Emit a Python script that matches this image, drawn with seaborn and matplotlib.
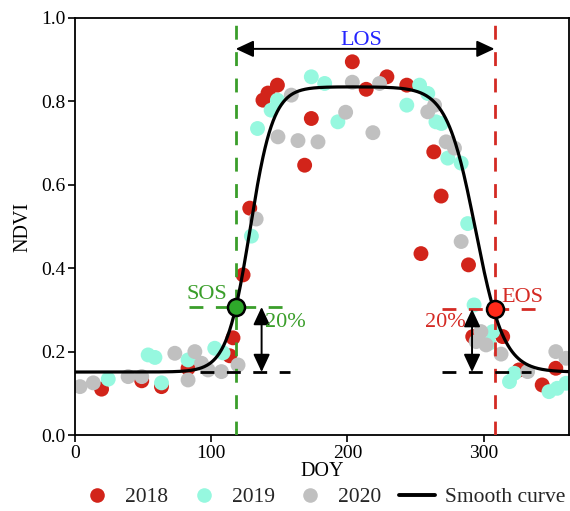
import numpy as np
import pandas as pd
import matplotlib
matplotlib.use("Agg")
import matplotlib.pyplot as plt
import seaborn as sns
from matplotlib.lines import Line2D

# ---- data ----
doy_2018 = [19.5, 49, 63.5, 83, 113.6, 116, 123.4, 128.3, 138, 141.7, 148.6, 168.6, 173.5,
            203.6, 213.8, 229, 243.6, 254, 263.4, 268.8, 288.9, 292, 314, 326, 343, 353]
ndvi_2018 = [0.11, 0.13, 0.116, 0.16, 0.19, 0.233, 0.384, 0.544, 0.803, 0.82, 0.839, 0.647, 0.759,
             0.895, 0.829, 0.859, 0.839, 0.435, 0.679, 0.573, 0.408, 0.236, 0.236, 0.156, 0.12, 0.16]

doy_2019 = [24.4, 53.7, 58.7, 63.5, 83, 102.6, 108.7, 129.5, 134, 144, 148.6, 173.5, 183.3, 193,
            243.6, 253, 259, 265, 269, 273.7, 283.5, 288.3, 293, 304, 306.7, 319, 322.6, 348, 354, 360.5]
ndvi_2019 = [0.134, 0.192, 0.186, 0.125, 0.18, 0.208, 0.197, 0.477, 0.735, 0.779, 0.803, 0.859, 0.843, 0.751,
             0.791, 0.839, 0.819, 0.751, 0.747, 0.664, 0.652, 0.507, 0.312, 0.22, 0.248, 0.128, 0.148, 0.104, 0.112, 0.124]

doy_2020 = [3.7, 13.4, 39, 49, 73.3, 83, 88, 92.9, 97.7, 107.5, 119.7, 133, 149, 158.8, 163.7, 178.4,
            198.7, 203.6, 218.7, 223.6, 259, 264, 272.5, 278.6, 283.5, 294.5, 298, 301.8, 312.8, 332.3, 353, 360.5]
ndvi_2020 = [0.116, 0.125, 0.14, 0.14, 0.196, 0.132, 0.2, 0.172, 0.156, 0.152, 0.168, 0.518, 0.715, 0.815, 0.706, 0.703,
             0.774, 0.846, 0.725, 0.843, 0.775, 0.791, 0.703, 0.688, 0.464, 0.224, 0.248, 0.216, 0.194, 0.152, 0.2, 0.184]

years = ["2018", "2019", "2020"]
year_colors = ["#d2241a", "#96f8df", "#c0c0c0"]

# smooth (double logistic) curve parameters
curve_base, curve_peak = 0.151, 0.835
rise_mid, rise_scale = 128.5, 8.5
fall_mid, fall_scale = 294.0, 10.5

sos_doy, sos_ndvi = 118, 0.307
eos_doy, eos_ndvi = 308, 0.302
los_level = 0.926

green = "#3a9e2a"
red = "#d42a24"

# ---- plotting ----
sns.set_theme(style="ticks")
plt.rcParams["font.family"] = ["Liberation Serif", "DejaVu Serif"]
plt.rcParams["mathtext.fontset"] = "stix"

fig = plt.figure(figsize=(5.70, 5.11), dpi=100)
ax = fig.add_axes([75 / 570, 1 - 435 / 511, 1 - 75 / 570 - 0.001, (435 - 18) / 511])

df = pd.concat([
    pd.DataFrame({"DOY": doy_2018, "NDVI": ndvi_2018, "Year": "2018"}),
    pd.DataFrame({"DOY": doy_2019, "NDVI": ndvi_2019, "Year": "2019"}),
    pd.DataFrame({"DOY": doy_2020, "NDVI": ndvi_2020, "Year": "2020"}),
], ignore_index=True)

sns.scatterplot(data=df, x="DOY", y="NDVI", hue="Year", hue_order=years,
                palette=dict(zip(years, year_colors)), s=115, linewidth=0,
                edgecolor="none", legend=False, ax=ax, zorder=2)

t = np.linspace(0, 365, 731)
amp = curve_peak - curve_base
curve = curve_base + amp * (1 / (1 + np.exp(-(t - rise_mid) / rise_scale))
                            - 1 / (1 + np.exp(-(t - fall_mid) / fall_scale)))
sns.lineplot(x=t, y=curve, color="black", linewidth=2.3, ax=ax, zorder=4)

# guide lines
ax.axvline(sos_doy, color=green, lw=2.0, dashes=(5, 4.5), zorder=3)
ax.axvline(eos_doy, color=red, lw=2.0, dashes=(5, 4.5), zorder=3)
ax.plot([84, 158], [sos_ndvi, sos_ndvi], color=green, lw=2.0, dashes=(5, 4.5), zorder=3)
ax.plot([269.5, 341], [eos_ndvi, eos_ndvi], color=red, lw=2.0, dashes=(5, 4.5), zorder=3)
ax.plot([92, 158], [curve_base, curve_base], color="black", lw=2.0, dashes=(5, 4.5), zorder=3)
ax.plot([269.5, 335], [curve_base, curve_base], color="black", lw=2.0, dashes=(5, 4.5), zorder=3)

arrow_style = dict(arrowstyle="<|-|>,head_length=0.6,head_width=0.28", color="black",
                   lw=1.4, mutation_scale=18, shrinkA=0, shrinkB=0)
ax.annotate("", xy=(sos_doy, los_level), xytext=(eos_doy, los_level), arrowprops=arrow_style, zorder=5)
ax.annotate("", xy=(137, sos_ndvi), xytext=(137, curve_base), arrowprops=arrow_style, zorder=5)
ax.annotate("", xy=(291.5, eos_ndvi), xytext=(291.5, curve_base), arrowprops=arrow_style, zorder=5)

ax.scatter([sos_doy], [sos_ndvi], s=150, color="#2ea82a", edgecolor="black", linewidth=1.8, zorder=6)
ax.scatter([eos_doy], [eos_ndvi], s=150, color="#ff2a1a", edgecolor="black", linewidth=1.8, zorder=6)

ax.text(210, 0.947, "LOS", color="#2424ff", fontsize=16, ha="center", va="center", zorder=6)
ax.text(97, 0.338, "SOS", color=green, fontsize=16, ha="center", va="center", zorder=6)
ax.text(139.5, 0.27, "20%", color=green, fontsize=16, ha="left", va="center", zorder=6)
ax.text(328.5, 0.33, "EOS", color=red, fontsize=16, ha="center", va="center", zorder=6)
ax.text(287, 0.27, "20%", color=red, fontsize=16, ha="right", va="center", zorder=6)

ax.set_xlim(0, 363)
ax.set_ylim(0, 1.0)
ax.set_xticks([0, 100, 200, 300])
ax.set_yticks([0.0, 0.2, 0.4, 0.6, 0.8, 1.0])
ax.set_yticklabels(["0.0", "0.2", "0.4", "0.6", "0.8", "1.0"])
ax.tick_params(labelsize=14, length=5, width=1.2, color="black", labelcolor="black", pad=2)
ax.set_xlabel("DOY", fontsize=14.5, labelpad=0, color="black")
ax.set_ylabel("NDVI", fontsize=14.5, labelpad=6, color="black")
for sp in ax.spines.values():
    sp.set_visible(True)
    sp.set_color("black")
    sp.set_linewidth(1.3)

handles = [Line2D([], [], marker="o", linestyle="none", markersize=10.5,
                  markerfacecolor=c, markeredgecolor="none") for c in year_colors]
handles.append(Line2D([], [], color="black", lw=2.8))
ax.legend(handles, years + ["Smooth curve"], loc="upper center", bbox_to_anchor=(0.5, -0.125),
          ncol=4, frameon=False, fontsize=15.5, handlelength=1.7, handletextpad=0.45,
          columnspacing=0.8, borderaxespad=0, borderpad=0)

fig.savefig("out.png", dpi=100)
